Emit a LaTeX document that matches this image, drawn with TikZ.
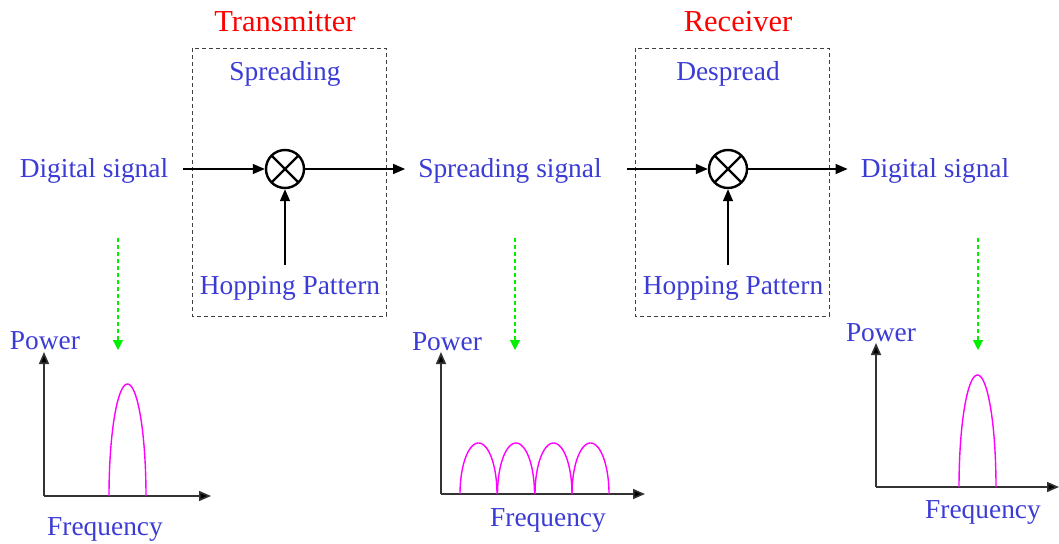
\documentclass[tikz,border=0pt]{standalone}
\usepackage{fontspec}
\setmainfont{Liberation Serif}
\newfontfamily\timesfam{Liberation Serif}
\usetikzlibrary{
	arrows.meta,
	calc,
	positioning
}
\definecolor{LabelBlue}{RGB}{59,59,213}
\definecolor{TitleRed}{RGB}{255,0,0}
\definecolor{HumpPink}{RGB}{255,0,255}
\definecolor{HintGreen}{RGB}{0,240,0}

\tikzset{
	lbl/.style={text=LabelBlue, inner sep=0pt, yshift=-2.5pt, font=\timesfam\fontsize{27.4}{30}\selectfont},
	ttl/.style={text=TitleRed, inner sep=0pt, yshift=-2pt, font=\timesfam\fontsize{30.5}{33}\selectfont},
	stagebox/.style={draw=black!75, dashed, line width=0.9pt, dash pattern=on 4pt off 3pt},
	mixer/.style={circle, draw, line width=2.4pt, minimum size=38pt, inner sep=0pt,
		path picture={\draw[line width=2.2pt] (path picture bounding box.north west) -- (path picture bounding box.south east)
			(path picture bounding box.north east) -- (path picture bounding box.south west);}},
	sig/.style={line width=1.4pt, -{Triangle[length=12pt, width=10pt]}},
	axis/.style={line width=1.6pt, black!80, -{Triangle[length=12pt, width=10pt, fill=black]}},
	hint/.style={HintGreen, dashed, line width=1.1pt, dash pattern=on 4pt off 3pt, -{Triangle[length=10pt, width=10pt]}},
	hump/.style={HumpPink, line width=1.4pt}
}

\begin{document}
\begin{tikzpicture}[x=1pt, y=-1pt]
		\useasboundingbox (0,0) rectangle (1059,543);
		
		% transmitter and receiver stages
		\draw[stagebox] (192,48) rectangle (386,316);
		\draw[stagebox] (635,48) rectangle (829,316);
		\node[ttl] (tx) at (285,20) {Transmitter};
		\node[ttl] (rx) at (738,20) {Receiver};
		\node[lbl] (spr) at (285,71) {Spreading};
		\node[lbl] (desp) at (728,71) {Despread};
		
		\node[mixer] (mul1) at (285,169) {};
		\node[mixer] (mul2) at (728,169) {};
		
		\node[lbl] (dig1) at (94,168) {Digital signal};
		\node[lbl] (sprsig) at (510,168) {Spreading signal};
		\node[lbl] (dig2) at (935,168) {Digital signal};
		\node[lbl] (hop1) at (290,286) {Hopping Pattern};
		\node[lbl] (hop2) at (733,286) {Hopping Pattern};
		
		\draw[sig] ([xshift=15pt]dig1.east |- mul1.west) -- (mul1.west);
		\draw[sig] (mul1.east) -- ([xshift=-13pt]sprsig.west |- mul1.east);
		\draw[sig] ([xshift=25pt]sprsig.east |- mul2.west) -- (mul2.west);
		\draw[sig] (mul2.east) -- ([xshift=-13pt]dig2.west |- mul2.east);
		\draw[sig] (mul1.south |- 0,265) -- (mul1.south);
		\draw[sig] (mul2.south |- 0,265) -- (mul2.south);
		
		% green hints down to the spectra
		\coordinate (h1a) at (118,238); \coordinate (h1b) at (118,350);
		\coordinate (h2a) at (515,238); \coordinate (h2b) at (515,350);
		\coordinate (h3a) at (978,238); \coordinate (h3b) at (978,350);
		\draw[hint] (h1a) -- (h1b);
		\draw[hint] (h2a) -- (h2b);
		\draw[hint] (h3a) -- (h3b);
		
		% spectrum 1
		\coordinate (o1) at (44,496);
		\draw[axis] (o1) -- (211,496);
		\draw[axis] (o1) -- (44,352);
		\node[lbl] (pw1) at (45,338) {Power};
		\node[lbl] (fq1) at (105,527) {Frequency};
		\draw[hump] plot[domain=180:0, samples=50] ({127.5+18.5*cos(\x)}, {496-112*sin(\x)});
		
		% spectrum 2
		\coordinate (o2) at (441,494);
		\draw[axis] (o2) -- (645,494);
		\draw[axis] (o2) -- (441,352);
		\node[lbl] (pw2) at (447,339) {Power};
		\node[lbl] (fq2) at (548,518) {Frequency};
		\foreach \c in {478.5,516,553.5,590.5}
			\draw[hump] plot[domain=180:0, samples=40] ({\c+18.5*cos(\x)}, {494-51*sin(\x)});
		
		% spectrum 3
		\coordinate (o3) at (876,487);
		\draw[axis] (o3) -- (1059,487);
		\draw[axis] (o3) -- (876,343);
		\node[lbl] (pw3) at (881,330) {Power};
		\node[lbl] (fq3) at (983,510) {Frequency};
		\draw[hump] plot[domain=180:0, samples=50] ({977.5+18.5*cos(\x)}, {487-112*sin(\x)});
	\end{tikzpicture}
\end{document}
